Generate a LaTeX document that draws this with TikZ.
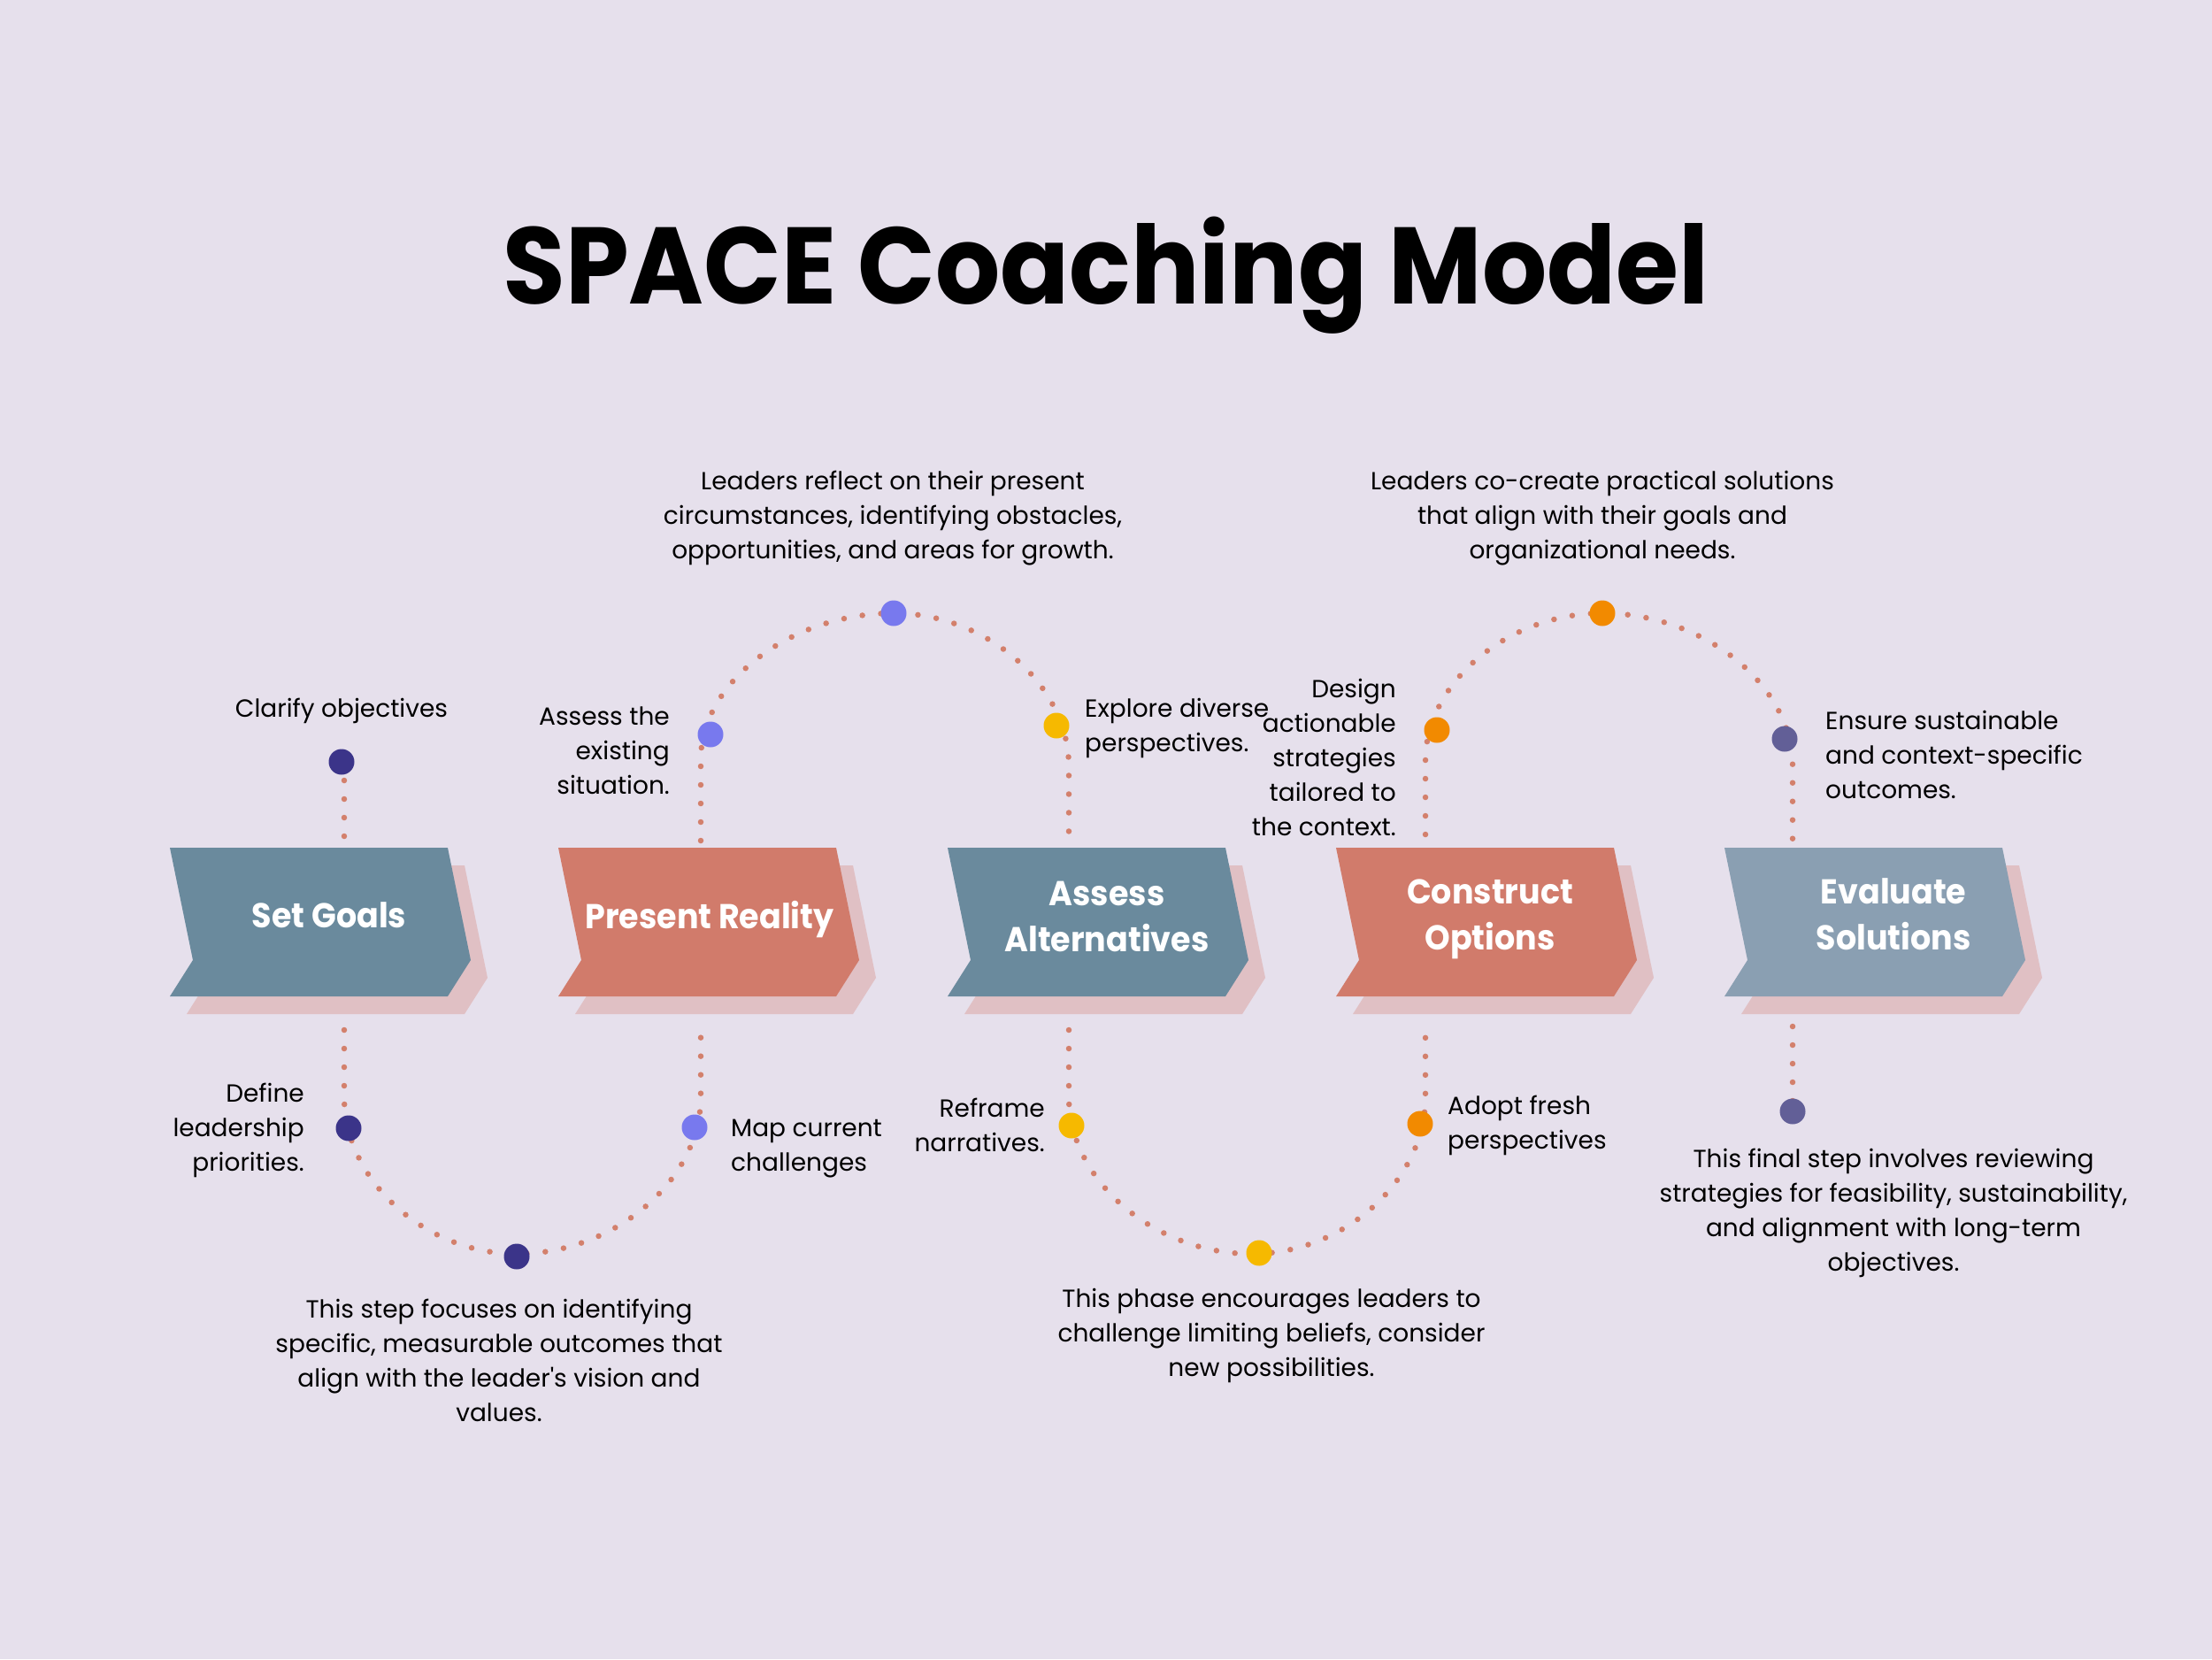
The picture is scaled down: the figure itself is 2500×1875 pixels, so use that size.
\documentclass[tikz,border=0pt]{standalone}
\usepackage{fontspec}
\newfontfamily\pop{Poppins}
\newfontfamily\popb{Poppins}[FakeStretch=0.935]
\definecolor{bg}{HTML}{E6E0EC}
\definecolor{chblue}{HTML}{6A8A9D}
\definecolor{chcoral}{HTML}{D17B6B}
\definecolor{chlight}{HTML}{8A9FB2}
\definecolor{shadowc}{HTML}{E0C0C4}
\definecolor{dotc}{HTML}{D3806C}
\definecolor{cIndigo}{HTML}{3B3489}
\definecolor{cPeri}{HTML}{7879EE}
\definecolor{cYellow}{HTML}{F6B900}
\definecolor{cOrange}{HTML}{F28A00}
\definecolor{cSlate}{HTML}{625F97}
\newcommand{\fl}{\rule{0pt}{21pt}}
\newcommand{\flb}{\rule{0pt}{30pt}}
\newcommand{\mychev}[2]{%
  \fill[shadowc] (#1+19,978) -- ++(314,0) -- ++(26,127) -- ++(-26,41) -- ++(-314,0) -- ++(26,-41) -- cycle;
  \fill[#2] (#1,958) -- ++(314,0) -- ++(26,127) -- ++(-26,41) -- ++(-314,0) -- ++(26,-41) -- cycle;}
\tikzset{
  dotline/.style={draw=dotc, line width=6.5pt, line cap=round, dash pattern=on 0pt off 21pt},
  bigdot/.style={circle, fill=#1, minimum size=29pt, inner sep=0pt},
  body/.style={font=\pop\fontsize{28}{39}\selectfont, inner sep=0pt, text=black},
  lab/.style={font=\popb\bfseries\fontsize{39}{52}\selectfont, text=white, inner sep=0pt, align=center, anchor=north},
}
\begin{document}
\begin{tikzpicture}[x=1pt,y=-1pt]
\useasboundingbox (0,0) rectangle (2500,1875);
\fill[bg] (0,0) rectangle (2500,1875);

% title
\node[font=\popb\bfseries\fontsize{123}{130}\selectfont, anchor=base, inner sep=0pt] (title) at (1250,343) {SPACE Coaching Model};

% chevrons
\mychev{192}{chblue}
\mychev{631}{chcoral}
\mychev{1071}{chblue}
\mychev{1510}{chcoral}
\mychev{1949}{chlight}

% dotted wave
\draw[dotline] (389,861) -- (389,952);
\draw[dotline] (389,1164) -- (389,1240) .. controls (389,1334) and (481,1417) .. (584,1417)
  .. controls (694,1417) and (792,1334) .. (792,1240) -- (792,1164);
\draw[dotline] (792,950) -- (792,858) .. controls (792,771) and (894,693) .. (1010,693)
  .. controls (1115,693) and (1208,774) .. (1208,866) -- (1208,951);
\draw[dotline] (1208,1164) -- (1208,1240) .. controls (1208,1334) and (1305,1417) .. (1415,1417)
  .. controls (1519,1417) and (1611,1334) .. (1611,1240) -- (1611,1156);
\draw[dotline] (1611,943) -- (1611,860) .. controls (1611,771) and (1705,693) .. (1811,693)
  .. controls (1925,693) and (2026,774) .. (2026,865) -- (2026,950);
\draw[dotline] (2026,1160) -- (2026,1256);

% big dots
\node[bigdot=cIndigo] (d1) at (386,861) {};
\node[bigdot=cIndigo] (d2) at (394,1275) {};
\node[bigdot=cIndigo] (d3) at (584,1420) {};
\node[bigdot=cPeri] (d4) at (785,1274) {};
\node[bigdot=cPeri] (d5) at (803,830) {};
\node[bigdot=cPeri] (d6) at (1010,693) {};
\node[bigdot=cYellow] (d7) at (1194,820) {};
\node[bigdot=cYellow] (d8) at (1211,1272) {};
\node[bigdot=cYellow] (d9) at (1423,1416) {};
\node[bigdot=cOrange] (d10) at (1605,1270) {};
\node[bigdot=cOrange] (d11) at (1624,825) {};
\node[bigdot=cOrange] (d12) at (1811,693) {};
\node[bigdot=cSlate] (d13) at (2017,835) {};
\node[bigdot=cSlate] (d14) at (2026,1256) {};

% chevron labels
\node[lab] (l1) at (372,1018) {\flb Set Goals};
\node[lab] (l2) at (802,1018) {\flb Present Reality};
\node[lab] (l3) at (1251,993) {\flb Assess\\Alternatives};
\node[lab] (l4) at (1684,991) {\flb Construct\\Options};
\node[lab] (l5) at (2140,991) {\flb Evaluate\\Solutions};

% texts
\node[body, align=center, anchor=north] (t1) at (386,789) {\fl Clarify objectives};
\node[body, align=right, anchor=north east] (t2) at (757,798) {\fl Assess the\\existing\\situation.};
\node[body, align=center, anchor=north] (t3) at (1009,532) {\fl Leaders reflect on their present\\circumstances, identifying obstacles,\\opportunities, and areas for growth.};
\node[body, align=left, anchor=north west] (t4) at (1226,789) {\fl Explore diverse\\perspectives.};
\node[body, align=right, anchor=north east] (t5) at (1578,767) {\fl Design\\actionable\\strategies\\tailored to\\the context.};
\node[body, align=center, anchor=north] (t6) at (1811,532) {\fl Leaders co-create practical solutions\\that align with their goals and\\organizational needs.};
\node[body, align=left, anchor=north west] (t7) at (2063,803) {\fl Ensure sustainable\\and context-specific\\outcomes.};
\node[body, align=right, anchor=north east] (t8) at (344,1224) {\fl Define\\leadership\\priorities.};
\node[body, align=left, anchor=north west] (t9) at (826,1263) {\fl Map current\\challenges};
\node[body, align=center, anchor=north] (t10) at (564,1468) {\fl This step focuses on identifying\\specific, measurable outcomes that\\align with the leader's vision and\\values.};
\node[body, align=right, anchor=north east] (t11) at (1181,1241) {\fl Reframe\\narratives.};
\node[body, align=left, anchor=north west] (t12) at (1636,1238) {\fl Adopt fresh\\perspectives};
\node[body, align=center, anchor=north] (t13) at (1437,1456) {\fl This phase encourages leaders to\\challenge limiting beliefs, consider\\new possibilities.};
\node[body, align=center, anchor=north] (t14) at (2140,1298) {\fl This final step involves reviewing\\strategies for feasibility, sustainability,\\and alignment with long-term\\objectives.};
\end{tikzpicture}
\end{document}
